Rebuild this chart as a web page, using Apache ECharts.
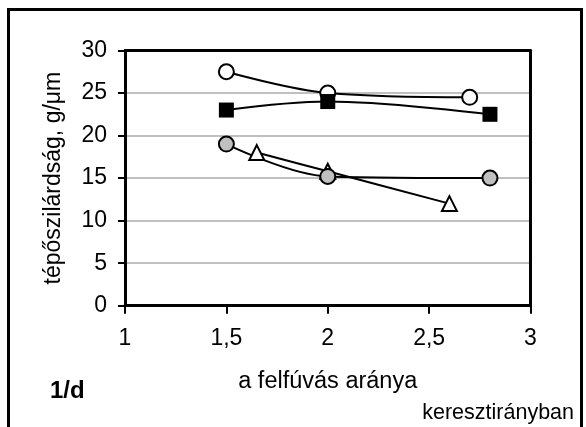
<!DOCTYPE html>
<html>
<head>
<meta charset="utf-8">
<script src="https://cdn.jsdelivr.net/npm/echarts@6/dist/echarts.min.js"></script>
<style>
  html, body { margin: 0; padding: 0; background: #fff; }
  #chart { width: 586px; height: 427px; }
</style>
</head>
<body>
<div id="chart"></div>
<script>
// ---- data ----
var xTicks = [1, 1.5, 2, 2.5, 3];
var yTicks = [0, 5, 10, 15, 20, 25, 30];
var openCircleX = [1.5, 2, 2.7];
var openCircleY = [27.5, 25, 24.5];
var squareX = [1.5, 2, 2.8];
var squareY = [23, 24, 22.5];
var triangleX = [1.65, 2, 2.6];
var triangleY = [18, 15.8, 12];
var greyCircleX = [1.5, 2, 2.8];
var greyCircleY = [19, 15.2, 15];
var xTitle = 'a felfúvás aránya';
var yTitle = 'tépőszilárdság, g/μm';
var panelLabel = '1/d';
var noteLabel = 'keresztirányban';

function pairs(xs, ys) { return xs.map(function (x, i) { return [x, ys[i]]; }); }

var FONT = '"Liberation Sans", Arial, sans-serif';
var chart = echarts.init(document.getElementById('chart'), null, { renderer: 'canvas' });

function mk(name, xs, ys, symbol, fill, size) {
  return {
    name: name, type: 'line', xAxisIndex: 0, yAxisIndex: 0,
    data: pairs(xs, ys), smooth: 0.35,
    symbol: symbol, symbolSize: size, showAllSymbol: true,
    lineStyle: { color: '#000', width: 2 },
    itemStyle: { color: fill, borderColor: '#000', borderWidth: symbol === 'rect' ? 0 : 2, opacity: 1 },
    emphasis: { disabled: true }, animation: false, z: 5
  };
}

chart.setOption({
  animation: false,
  backgroundColor: '#fff',
  grid: { left: 125, right: 55.5, top: 50.5, bottom: 121.3, containLabel: false },
  xAxis: [{
    type: 'value', min: xTicks[0], max: xTicks[xTicks.length - 1], interval: 0.5,
    position: 'bottom',
    name: xTitle, nameLocation: 'middle', nameGap: 64,
    nameTextStyle: { fontFamily: FONT, fontSize: 23.5, color: '#000' },
    axisLine: { show: true, onZero: false, lineStyle: { color: '#000', width: 3 } },
    axisTick: { show: true, inside: false, length: 8, lineStyle: { color: '#000', width: 2 } },
    axisLabel: { margin: 21, fontFamily: FONT, fontSize: 23, color: '#000',
      formatter: function (v) { return String(v).replace('.', ','); } },
    splitLine: { show: false }
  }, {
    type: 'value', min: 1, max: 3, position: 'top',
    axisLine: { show: true, onZero: false, lineStyle: { color: '#000', width: 3 } },
    axisTick: { show: false }, axisLabel: { show: false }, splitLine: { show: false }
  }],
  yAxis: [{
    type: 'value', min: yTicks[0], max: yTicks[yTicks.length - 1], interval: 5,
    position: 'left',
    name: yTitle, nameLocation: 'middle', nameGap: 60, nameRotate: 90,
    nameTextStyle: { fontFamily: FONT, fontSize: 23, color: '#000' },
    axisLine: { show: true, onZero: false, lineStyle: { color: '#000', width: 3 } },
    axisTick: { show: true, inside: false, length: 7, lineStyle: { color: '#000', width: 2 } },
    axisLabel: { margin: 18, fontFamily: FONT, fontSize: 23, color: '#000' },
    splitLine: { show: true, lineStyle: { color: '#c0c0c0', width: 2 } }
  }, {
    type: 'value', min: 0, max: 30, position: 'right',
    axisLine: { show: true, onZero: false, lineStyle: { color: '#000', width: 3 } },
    axisTick: { show: false }, axisLabel: { show: false }, splitLine: { show: false }
  }],
  series: [
    mk('open circle', openCircleX, openCircleY, 'circle', '#fff', 15),
    mk('square', squareX, squareY, 'rect', '#000', 15),
    mk('triangle', triangleX, triangleY, 'triangle', '#fff', 15),
    mk('grey circle', greyCircleX, greyCircleY, 'circle', '#c0c0c0', 15)
  ],
  graphic: [
    { type: 'rect', shape: { x: 8.5, y: 9.5, width: 573, height: 430 },
      style: { fill: 'none', stroke: '#000', lineWidth: 3 }, z: 100, silent: true },
    { type: 'text', x: 50, y: 391.7,
      style: { text: panelLabel, font: 'bold 24px ' + FONT, fill: '#000', verticalAlign: 'middle', align: 'left' }, z: 100 },
    { type: 'text', x: 574, y: 412.6,
      style: { text: noteLabel, font: '21.5px ' + FONT, fill: '#000', verticalAlign: 'middle', align: 'right' }, z: 100 }
  ]
});
</script>
</body>
</html>
